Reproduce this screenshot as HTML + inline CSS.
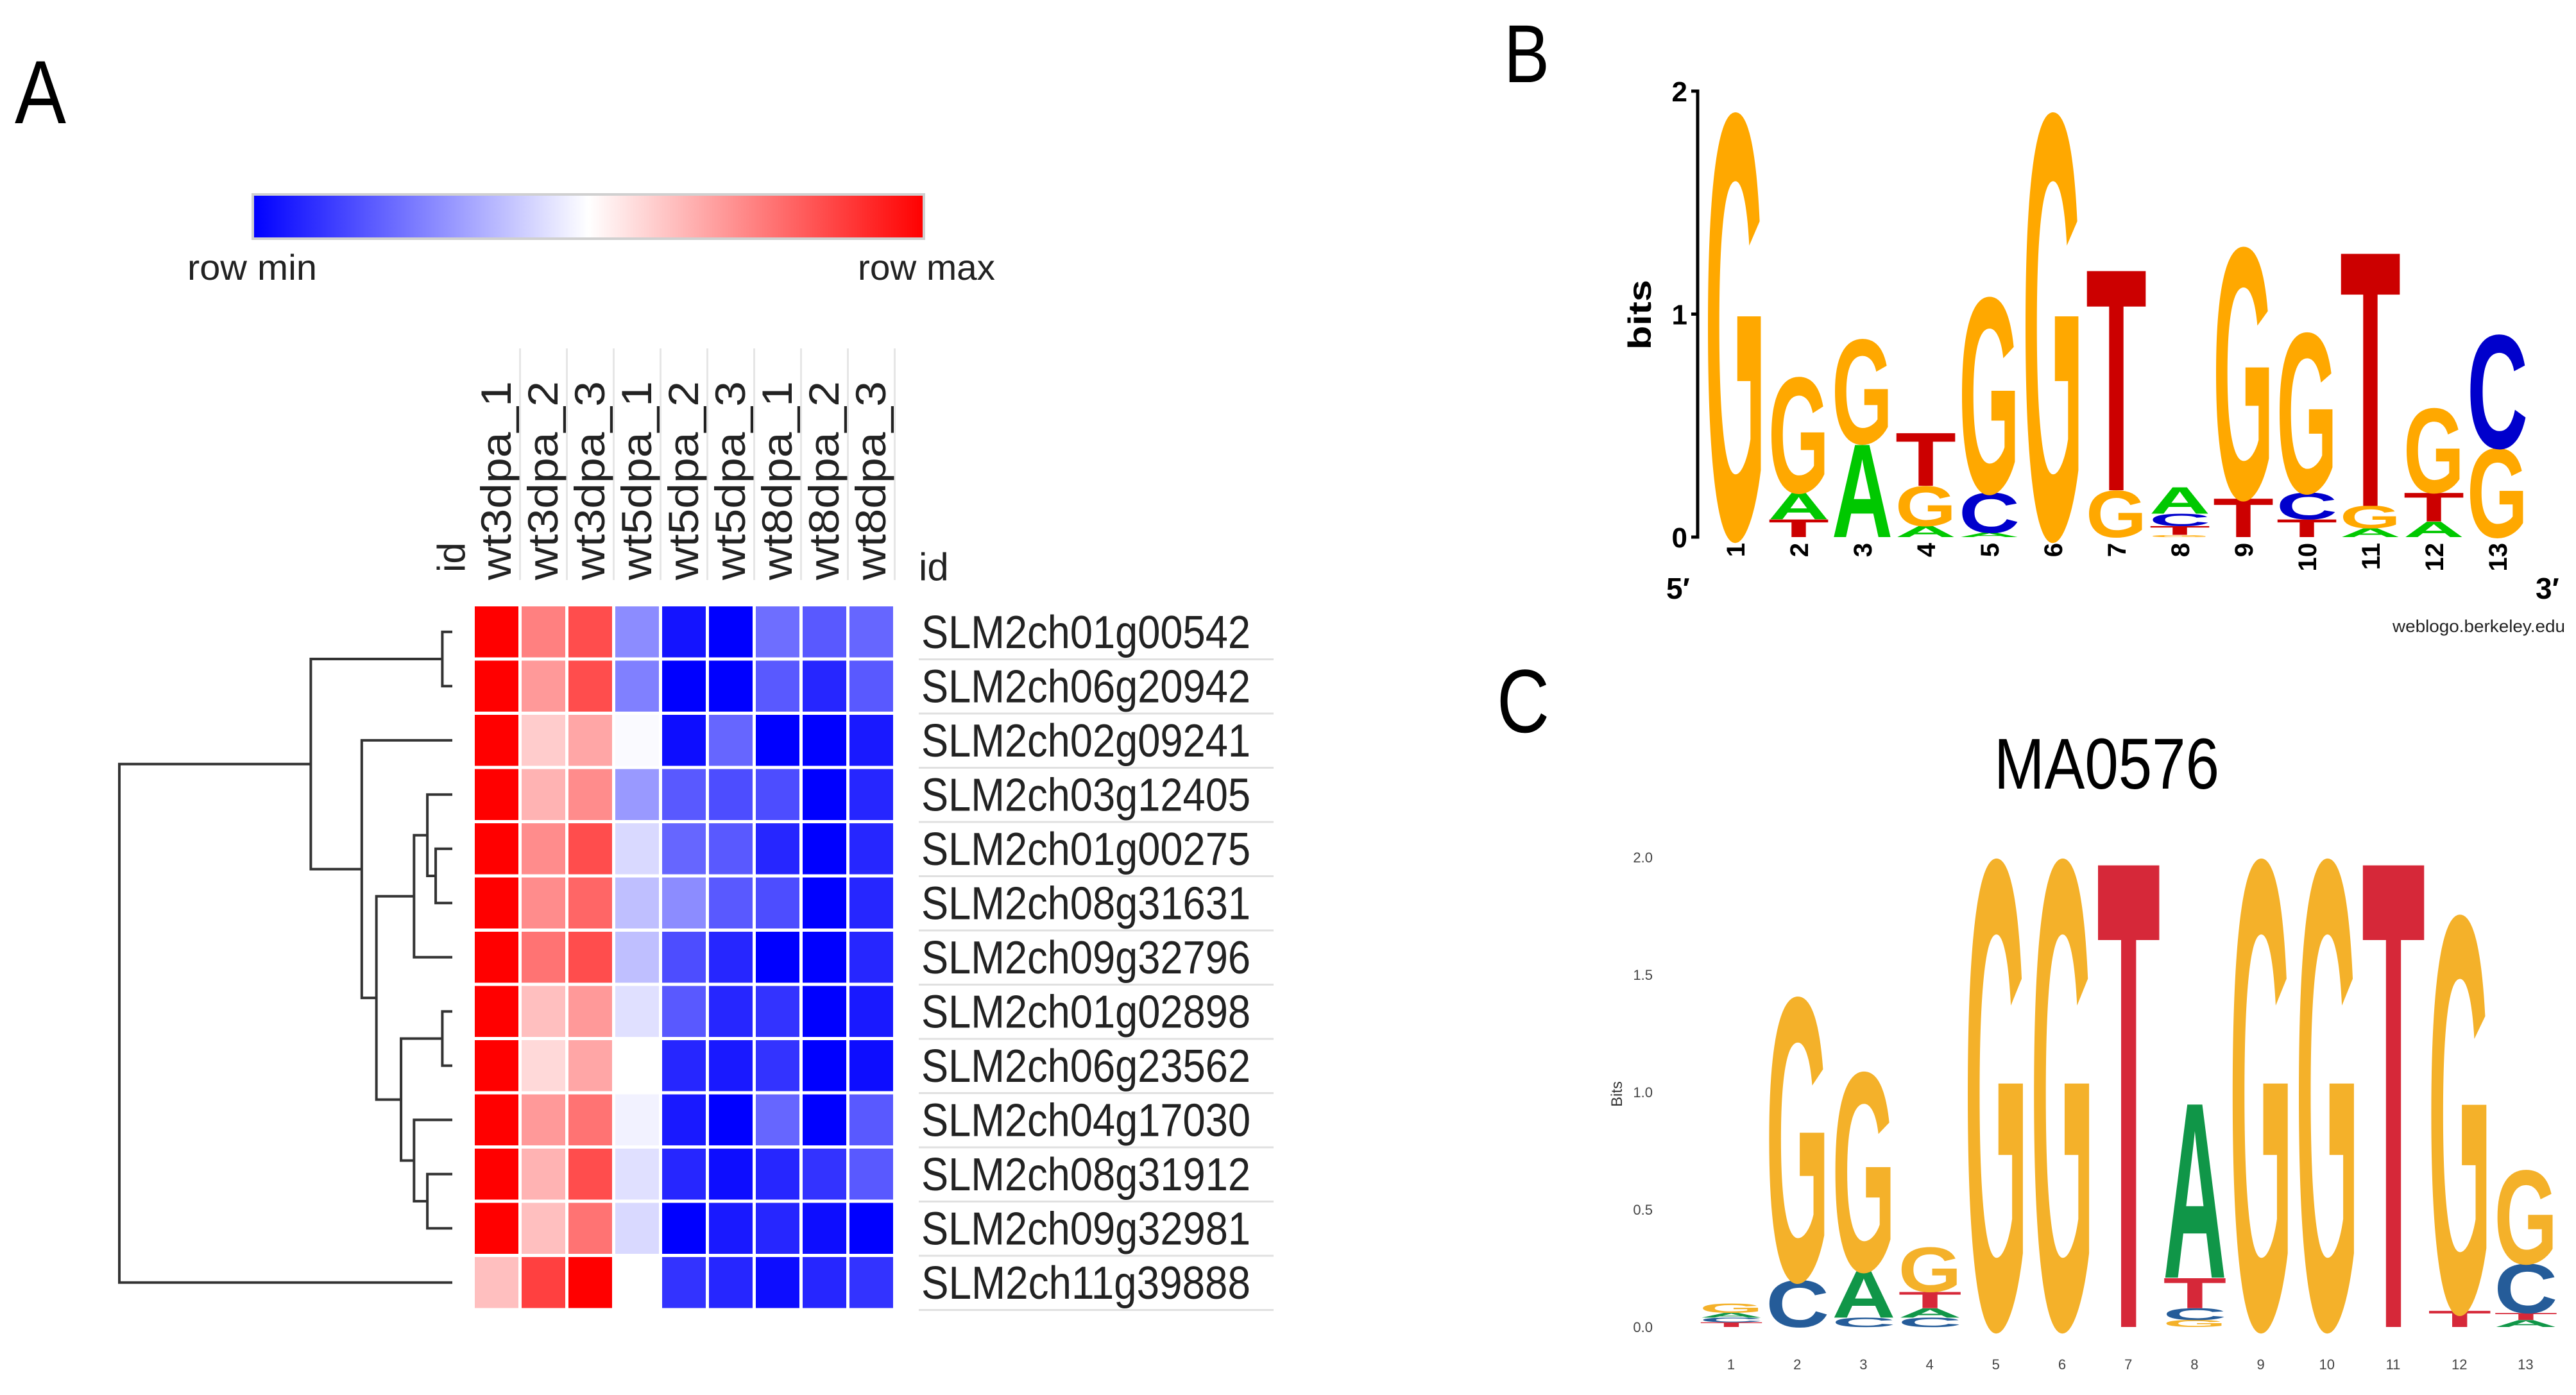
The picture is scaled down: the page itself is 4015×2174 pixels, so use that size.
<!DOCTYPE html>
<html><head><meta charset="utf-8"><style>
html,body{margin:0;padding:0;background:#fff;width:4015px;height:2174px;overflow:hidden;}
svg{display:block;font-family:"Liberation Sans",sans-serif;}
</style></head><body>
<svg id="fig" width="4015" height="2174" viewBox="0 0 4015 2174" xmlns="http://www.w3.org/2000/svg">
<defs>
<linearGradient id="cb" x1="0" x2="1" y1="0" y2="0">
<stop offset="0" stop-color="#0000ff"/><stop offset="0.5" stop-color="#ffffff"/><stop offset="1" stop-color="#ff0000"/>
</linearGradient>
</defs>
<text x="23" y="192" font-size="140" textLength="80" lengthAdjust="spacingAndGlyphs">A</text>
<text x="2344" y="128" font-size="128" textLength="71" lengthAdjust="spacingAndGlyphs">B</text>
<text x="2333" y="1141" font-size="140" textLength="82" lengthAdjust="spacingAndGlyphs">C</text>
<rect x="394" y="303" width="1046" height="69" fill="url(#cb)" stroke="#d0d0d0" stroke-width="4"/>
<text x="292" y="436" font-size="56" textLength="202" lengthAdjust="spacingAndGlyphs" fill="#222">row min</text>
<text x="1337" y="436" font-size="56" textLength="214" lengthAdjust="spacingAndGlyphs" fill="#222">row max</text>
<text x="0" y="0" font-size="60" transform="translate(724,892) rotate(-90)" fill="#222">id</text>
<text x="1432" y="904" font-size="60" fill="#222">id</text>
<text x="3729" y="985" font-size="27" textLength="269" lengthAdjust="spacingAndGlyphs" fill="#222">weblogo.berkeley.edu</text>
<text x="3108" y="1229" font-size="112" textLength="351" lengthAdjust="spacingAndGlyphs">MA0576</text>
<text x="0" y="0" font-size="50" font-weight="bold" transform="translate(2573,545) rotate(-90)" textLength="109" lengthAdjust="spacingAndGlyphs">bits</text>
<text x="0" y="0" font-size="24" transform="translate(2528,1725) rotate(-90)" fill="#333">Bits</text>
<text x="2597" y="933" font-size="46" font-weight="bold">5′</text>
<text x="3952" y="933" font-size="46" font-weight="bold">3′</text>
<g id="g"></g>
</svg>
<script>
// Heatmap data
const genes = ["SLM2ch01g00542","SLM2ch06g20942","SLM2ch02g09241","SLM2ch03g12405","SLM2ch01g00275","SLM2ch08g31631","SLM2ch09g32796","SLM2ch01g02898","SLM2ch06g23562","SLM2ch04g17030","SLM2ch08g31912","SLM2ch09g32981","SLM2ch11g39888"];
const samples = ["wt3dpa_1","wt3dpa_2","wt3dpa_3","wt5dpa_1","wt5dpa_2","wt5dpa_3","wt8dpa_1","wt8dpa_2","wt8dpa_3"];
const heatValues = [
[1,0.5,0.7,-0.45,-0.92,-1,-0.57,-0.65,-0.6],
[1,0.4,0.7,-0.5,-1,-1,-0.65,-0.85,-0.65],
[1,0.2,0.35,-0.02,-0.95,-0.6,-1,-1,-0.9],
[1,0.3,0.45,-0.4,-0.65,-0.7,-0.7,-1,-0.85],
[1,0.45,0.7,-0.15,-0.6,-0.65,-0.85,-1,-0.85],
[1,0.45,0.6,-0.25,-0.45,-0.65,-0.7,-1,-0.85],
[1,0.55,0.7,-0.25,-0.7,-0.85,-1,-1,-0.85],
[1,0.25,0.4,-0.12,-0.65,-0.85,-0.8,-1,-0.9],
[1,0.15,0.35,0,-0.85,-0.9,-0.8,-1,-0.95],
[1,0.4,0.55,-0.05,-0.9,-1,-0.6,-1,-0.65],
[1,0.3,0.7,-0.12,-0.85,-0.95,-0.85,-0.8,-0.65],
[1,0.25,0.55,-0.15,-1,-0.9,-0.85,-0.95,-1],
[0.25,0.75,1,0,-0.8,-0.85,-0.95,-0.85,-0.8]];
// Dendrogram merges: [left, right, height (0 = leaves, 1 = root)]
const merges = [[0,1,0.03],[4,5,0.05],[3,14,0.075],[15,6,0.115],[7,8,0.03],[10,11,0.075],[9,18,0.115],[17,19,0.154],[16,20,0.228],[2,21,0.272],[13,22,0.425],[23,12,1]];
// Logo B (weblogo) stacks bottom->top: [letter, bits]
const logoB = [
[["G",1.91]],
[["T",0.08],["A",0.12],["G",0.52]],
[["A",0.42],["G",0.47]],
[["A",0.05],["G",0.18],["T",0.24]],
[["A",0.02],["C",0.18],["G",0.88]],
[["G",1.91]],
[["G",0.21],["T",1.0]],
[["G",0.01],["T",0.04],["C",0.055],["A",0.12]],
[["T",0.175],["G",1.13]],
[["T",0.08],["C",0.12],["G",0.72]],
[["A",0.04],["G",0.1],["T",1.15]],
[["A",0.07],["T",0.13],["G",0.38]],
[["G",0.4],["C",0.51]]];
const logoBTicks = [0,1,2];
// Logo C (MA0576)
const logoC = [
[["T",0.02],["C",0.02],["A",0.02],["G",0.04]],
[["C",0.2],["G",1.21]],
[["C",0.04],["A",0.2],["G",0.85]],
[["C",0.04],["A",0.04],["T",0.07],["G",0.19]],
[["G",2.0]],
[["G",2.0]],
[["T",2.0]],
[["G",0.03],["C",0.05],["T",0.13],["A",0.75]],
[["G",2.0]],
[["G",2.0]],
[["T",2.0]],
[["T",0.07],["G",1.69]],
[["A",0.03],["T",0.03],["C",0.21],["G",0.4]]];
const logoCTicks = ["0.0","0.5","1.0","1.5","2.0"];

const NS="http://www.w3.org/2000/svg";
const G=document.getElementById('g');
function mk(tag,attrs,parent){const e=document.createElementNS(NS,tag);for(const k in attrs)e.setAttribute(k,attrs[k]);(parent||G).appendChild(e);return e;}

const hx0=740, colPitch=73, hy0=945, rowPitch=84.5, gap=5;
const colX=i=>hx0+i*colPitch;
const rowY=i=>hy0+i*rowPitch;
function heatColor(v){if(v>=0){const c=Math.round(255*(1-v));return `rgb(255,${c},${c})`;}const c=Math.round(255*(1+v));return `rgb(${c},${c},255)`;}

samples.forEach((s,j)=>{
  const ln=mk('line',{x1:colX(j+1)-gap/2,x2:colX(j+1)-gap/2,y1:543,y2:904,stroke:'#e6e6e6','stroke-width':3});
  
  
  const cx=colX(j)+(colPitch-gap)/2;
  const t=mk('text',{x:0,y:0,'font-size':66,transform:`translate(${cx+22},904) rotate(-90)`,textLength:310,lengthAdjust:'spacingAndGlyphs',fill:'#222'});
  t.textContent=s;
  
  
});
heatValues.forEach((row,i)=>{
  row.forEach((v,j)=>{
    const r=mk('rect',{x:colX(j),y:rowY(i),width:colPitch-gap,height:rowPitch-gap,fill:heatColor(v)});
    
    
  });
  const t=mk('text',{x:1436,y:rowY(i)+(rowPitch-gap)/2+25,'font-size':72,textLength:513,lengthAdjust:'spacingAndGlyphs',fill:'#222'});
  t.textContent=genes[i];
  
  
  const l=mk('line',{x1:1432,x2:1985,y1:rowY(i)+rowPitch-2,y2:rowY(i)+rowPitch-2,stroke:'#e0e0e0','stroke-width':3});
  
  
});

const leafX=705, rootX=186;
const hx=h=>leafX-(leafX-rootX)*h;
const nodeY=[], nodeX=[];
genes.forEach((g,i)=>{nodeY[i]=rowY(i)+(rowPitch-gap)/2;nodeX[i]=leafX;});
merges.forEach((m,k)=>{
  const id=genes.length+k, x=hx(m[2]);
  const [a,b]=m;
  nodeY[id]=(nodeY[a]+nodeY[b])/2; nodeX[id]=x;
  const p=mk('path',{d:`M${nodeX[a]},${nodeY[a]}H${x}V${nodeY[b]}H${nodeX[b]}`,fill:'none',stroke:'#333','stroke-width':4});
  
  
});

function drawLogo(data,opt){
  data.forEach((stack,i)=>{
    let base=0;
    const x=opt.x0+i*opt.pitch;
    stack.forEach(([L,b])=>{
      const yb=opt.y0-base*opt.unit, h=b*opt.unit;
      base+=b;
      if(h<1)return;
      const g=mk('g',{transform:`translate(${x},${yb}) scale(1,${h/70})`});
      const t=mk('text',{x:0,y:0,'font-size':100,'font-weight':'bold',fill:opt.colors[L],textLength:opt.w,lengthAdjust:'spacingAndGlyphs'},g);
      t.textContent=L;
      
      
    });
  });
}
const bUnit=347.5;
drawLogo(logoB,{x0:2657,pitch:99,w:95,y0:837,unit:bUnit,name:'logo-b',colors:{G:'#ffa800',A:'#00c800',T:'#cc0000',C:'#0000cc'}});
const ax=mk('path',{d:`M2636,142H2646V837H2636M2636,${837-bUnit}H2646`,fill:'none',stroke:'#000','stroke-width':5});


logoBTicks.forEach(v=>{
  const t=mk('text',{x:2630,y:837-v*bUnit+16,'font-size':44,'font-weight':'bold','text-anchor':'end'});
  t.textContent=v;
  
  
});
logoB.forEach((s,i)=>{
  const cx=2657+i*99+47;
  const t=mk('text',{x:0,y:0,'font-size':40,'font-weight':'bold',transform:`translate(${cx+15},846) rotate(-90)`,'text-anchor':'end'});
  t.textContent=i+1;
  
  
});
const cUnit=366;
drawLogo(logoC,{x0:2649,pitch:103.2,w:99,y0:2068,unit:cUnit,name:'logo-c',colors:{G:'#f4b12a',A:'#109648',T:'#d62839',C:'#255c99'}});
logoCTicks.forEach(v=>{
  const t=mk('text',{x:2576,y:2068-parseFloat(v)*cUnit+8,'font-size':22,'text-anchor':'end',fill:'#444'});
  t.textContent=v;
  
  
});
logoC.forEach((s,i)=>{
  const t=mk('text',{x:2649+i*103.2+49,y:2134,'font-size':22,'text-anchor':'middle',fill:'#444'});
  t.textContent=i+1;
  
  
});
</script>
</body></html>
